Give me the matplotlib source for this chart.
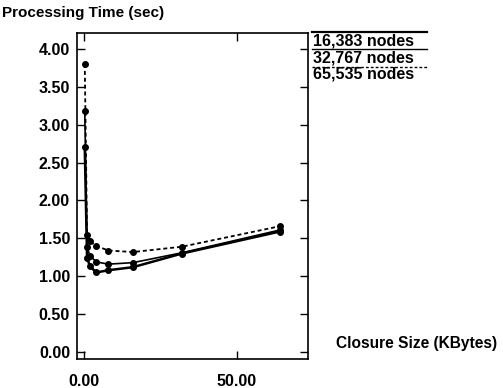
import matplotlib
matplotlib.use('Agg')
import matplotlib.pyplot as plt
from matplotlib.lines import Line2D

plt.rcParams['font.family'] = ['Liberation Sans', 'DejaVu Sans']

# Closure sizes (KBytes) and processing times (sec)
sizes = [0.25, 1, 2, 4, 8, 16, 32, 64]
t_16383 = [2.70, 1.24, 1.13, 1.05, 1.08, 1.12, 1.30, 1.59]
t_32767 = [3.18, 1.38, 1.27, 1.19, 1.16, 1.18, 1.31, 1.61]
t_65535 = [3.80, 1.54, 1.46, 1.40, 1.34, 1.32, 1.39, 1.66]

labels = ['16,383 nodes', '32,767 nodes', '65,535 nodes']
yticks = [0.0, 0.5, 1.0, 1.5, 2.0, 2.5, 3.0, 3.5, 4.0]
xticks = [0.0, 50.0]

fig = plt.figure(figsize=(5.03, 3.88), dpi=100)
ax = fig.add_axes([0.153, 0.075, 0.459, 0.840])

ax.plot(sizes, t_16383, color='black', linewidth=1.8, marker='o', markersize=4)
ax.plot(sizes, t_32767, color='black', linewidth=1.2, marker='o', markersize=4)
ax.plot(sizes, t_65535, color='black', linewidth=1.3, linestyle=(0, (2.2, 1.6)),
        marker='o', markersize=4)

ax.set_xlim(-2.3, 73.2)
ax.set_ylim(-0.09, 4.21)
ax.set_yticks(yticks)
ax.set_yticklabels(['%.2f' % v for v in yticks])
ax.set_xticks(xticks)
ax.set_xticklabels(['%.2f' % v for v in xticks])
ax.tick_params(direction='in', length=6, width=1, top=True, right=True,
               labelsize=11.5, pad=5)
for lab in ax.get_xticklabels() + ax.get_yticklabels():
    lab.set_fontweight('bold')
ax.tick_params(axis='x', pad=11)
for s in ax.spines.values():
    s.set_linewidth(1.2)

fig.text(0.004, 0.967, 'Processing Time (sec)', fontsize=11, fontweight='bold',
         ha='left', va='center')
fig.text(0.668, 0.115, 'Closure Size (KBytes)', fontsize=11.2, fontweight='bold',
         ha='left', va='center')

# legend drawn as in the original: a rule above each label
styles = [dict(lw=1.6, ls='-'), dict(lw=1.0, ls='-'), dict(lw=1.0, ls=(0, (2, 1.5)))]
rule_y = [0.917, 0.874, 0.828]
text_y = [0.895, 0.851, 0.808]
for lab, st, ry, ty in zip(labels, styles, rule_y, text_y):
    fig.add_artist(Line2D([0.620, 0.848], [ry, ry], color='black',
                          transform=fig.transFigure, **st))
    fig.text(0.622, ty, lab, fontsize=11.5, fontweight='bold', ha='left', va='center')

fig.savefig('out.png', dpi=100)
